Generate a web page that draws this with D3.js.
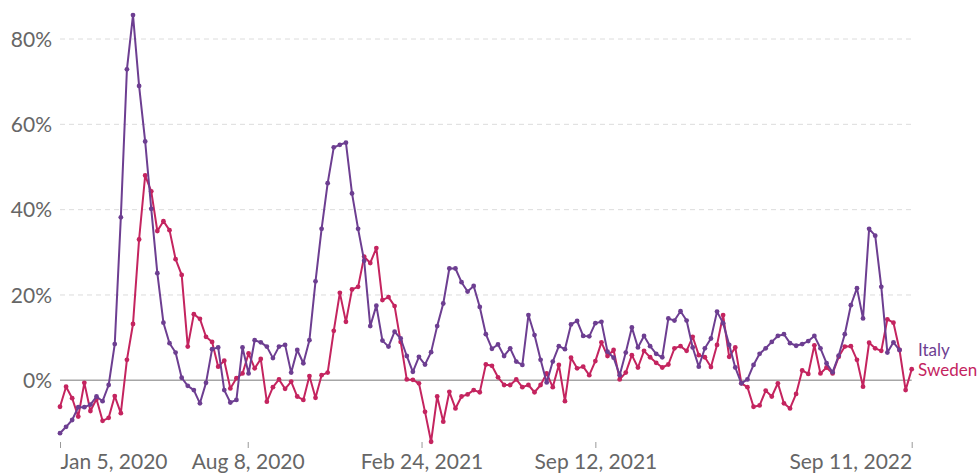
<!DOCTYPE html>
<html>
<head>
<meta charset="utf-8">
<script src="https://cdn.jsdelivr.net/npm/d3@7"></script>
<style>
  html, body { margin: 0; padding: 0; background: #fff; }
  svg { display: block; font-family: Lato, "Open Sans", sans-serif; }
</style>
</head>
<body>
<svg id="chart" width="979" height="475"></svg>
<script>
// Weekly excess mortality (% above expected), first week starting Jan 5, 2020
const firstWeek = "2020-01-05";
const seriesNames = ["Italy", "Sweden"];
const seriesColors = ["#6D3E91", "#C4245F"];

const italy = [
  -12.4, -10.9, -9.3, -6.3, -6.3, -5.7, -3.8, -4.9, -1.1, 8.5,
  38.2, 72.9, 85.6, 69.0, 56.0, 40.2, 25.1, 13.5, 8.7, 6.5,
  0.6, -1.3, -2.3, -5.4, -0.6, 7.3, 7.7, -2.3, -5.2, -4.6,
  7.7, 1.6, 9.4, 8.9, 7.9, 5.2, 7.9, 8.3, 1.8, 7.1,
  4.0, 9.4, 23.2, 35.5, 46.2, 54.6, 55.2, 55.7, 43.8, 35.5,
  28.0, 12.7, 17.5, 9.3, 7.9, 11.4, 9.8, 5.7, 2.0, 5.5,
  3.7, 6.6, 12.7, 18.0, 26.2, 26.2, 23.0, 20.8, 22.1, 17.2,
  10.8, 7.4, 8.4, 5.7, 7.5, 4.4, 3.6, 15.3, 10.6, 4.8,
  -0.5, 4.4, 8.0, 7.3, 13.1, 13.9, 10.4, 10.3, 13.4, 13.7,
  6.7, 5.3, 1.2, 6.5, 12.4, 7.7, 10.4, 8.0, 6.2, 5.4,
  14.5, 14.0, 16.2, 14.0, 7.7, 3.2, 7.5, 9.8, 16.1, 13.4,
  8.3, 3.0, -0.7, 0.2, 3.6, 6.2, 7.5, 9.0, 10.4, 10.8,
  8.7, 8.1, 8.5, 9.2, 10.4, 7.5, 4.0, 1.9, 5.8, 10.8,
  17.6, 21.6, 14.5, 35.5, 33.9, 21.9, 6.5, 8.9, 7.1
];

const sweden = [
  -6.2, -1.5, -4.2, -8.5, -0.6, -7.2, -4.4, -9.5, -8.8, -3.7,
  -7.7, 4.8, 13.2, 33.0, 48.0, 44.3, 35.0, 37.3, 35.2, 28.4,
  24.7, 7.9, 15.5, 14.4, 10.2, 9.0, 3.2, 4.6, -1.9, 0.5,
  1.6, 6.3, 2.8, 5.0, -5.0, -1.6, 0.2, -2.0, -0.3, -3.8,
  -4.6, 1.0, -4.1, 1.2, 1.8, 11.6, 20.5, 13.7, 21.3, 21.9,
  29.0, 27.5, 31.0, 18.8, 19.5, 17.4, 9.0, 0.2, 0.1, -0.7,
  -7.4, -14.4, -3.8, -9.7, -2.7, -6.6, -3.8, -3.3, -2.3, -2.8,
  3.7, 3.4, 0.7, -1.1, -1.1, 0.2, -1.6, -1.1, -2.8, -1.1,
  1.6, -1.6, 3.6, -4.9, 5.3, 2.8, 3.2, 1.2, 4.5, 8.9,
  5.7, 7.1, 0.2, 1.8, 5.9, 3.0, 6.9, 5.4, 4.1, 3.0,
  3.7, 7.5, 8.0, 6.9, 10.2, 5.9, 5.4, 3.1, 8.3, 15.3,
  5.5, 7.7, -0.7, -1.6, -6.2, -5.9, -2.4, -3.8, -0.7, -5.4,
  -6.6, -3.2, 2.3, 1.5, 8.2, 1.6, 3.0, 1.6, 5.5, 7.9,
  8.0, 4.8, -1.5, 8.8, 7.5, 6.9, 14.3, 13.5, 7.1, -2.3,
  2.6
];

const yTicks = [0, 20, 40, 60, 80];
const xTickDates = ["2020-01-05", "2020-08-08", "2021-02-24", "2021-09-12", "2022-09-11"];

const parse = d3.utcParse("%Y-%m-%d");
const fmt = d3.utcFormat("%b %-d, %Y");
const start = parse(firstWeek);
const toPoints = vals => vals.map((v, i) => ({ date: d3.utcWeek.offset(start, i), value: v }));
const series = [italy, sweden].map((vals, k) => ({
  name: seriesNames[k], color: seriesColors[k], points: toPoints(vals)
}));

const svg = d3.select("#chart");
const x = d3.scaleUtc()
  .domain([parse(xTickDates[0]), parse(xTickDates[xTickDates.length - 1])])
  .range([60, 911.7]);
const y = d3.scaleLinear().domain([0, 80]).range([380.3, 39]);

// horizontal grid
const grid = svg.append("g");
grid.selectAll("line")
  .data(yTicks.filter(t => t !== 0))
  .join("line")
  .attr("x1", 60).attr("x2", 911)
  .attr("y1", d => y(d)).attr("y2", d => y(d))
  .attr("stroke", "#dcdcdc").attr("stroke-width", 1)
  .attr("stroke-dasharray", "5,4");

// y-axis labels
const yAxis = d3.axisLeft(y).tickValues(yTicks).tickSize(0).tickPadding(0)
  .tickFormat(d => d + "%");
svg.append("g")
  .attr("transform", "translate(52,0)")
  .call(yAxis)
  .call(g => g.select(".domain").remove())
  .call(g => g.selectAll("text")
    .attr("fill", "#666").attr("font-size", 21).attr("font-family", "Lato")
    .attr("dy", "0.34em"));

// zero line
svg.append("line")
  .attr("x1", 60).attr("x2", 911.7)
  .attr("y1", y(0)).attr("y2", y(0))
  .attr("stroke", "#a6a6a6").attr("stroke-width", 1.5);

// x-axis
const xDates = xTickDates.map(parse);
const xAxis = d3.axisBottom(x).tickValues(xDates).tickSize(6).tickPadding(6)
  .tickFormat(fmt);
svg.append("g")
  .attr("transform", "translate(0,442)")
  .call(xAxis)
  .call(g => g.select(".domain").remove())
  .call(g => g.selectAll(".tick line").attr("stroke", "#999"))
  .call(g => g.selectAll("text")
    .attr("fill", "#666").attr("font-size", 21).attr("font-family", "Lato")
    .attr("text-anchor", (d, i) => i === 0 ? "start" : (i === xDates.length - 1 ? "end" : "middle")));

// lines and markers
const line = d3.line().x(d => x(d.date)).y(d => y(d.value));
const sg = svg.append("g").selectAll("g").data(series.slice().reverse()).join("g");
sg.append("path")
  .attr("d", d => line(d.points))
  .attr("fill", "none")
  .attr("stroke", d => d.color)
  .attr("stroke-width", 2)
  .attr("stroke-linejoin", "round");
sg.selectAll("circle")
  .data(d => d.points.map(p => ({ ...p, color: d.color })))
  .join("circle")
  .attr("cx", d => x(d.date)).attr("cy", d => y(d.value))
  .attr("r", 2.4).attr("fill", d => d.color);

// series labels at right edge
svg.append("g").selectAll("text")
  .data(series)
  .join("text")
  .attr("x", 918)
  .attr("y", (d, i) => 356 + i * 20)
  .attr("fill", d => d.color)
  .attr("font-size", 17).attr("font-family", "Lato")
  .text(d => d.name);
</script>
</body>
</html>
